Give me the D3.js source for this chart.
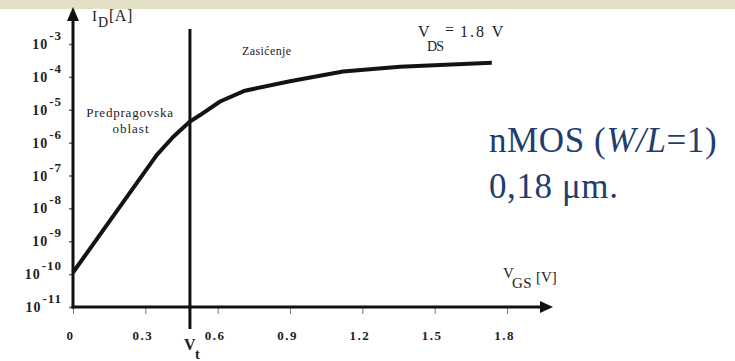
<!DOCTYPE html>
<html>
<head>
<meta charset="utf-8">
<script src="https://cdn.jsdelivr.net/npm/d3@7"></script>
<style>
  body { margin: 0; background: #fff; }
  svg { display: block; }
</style>
</head>
<body>
<script>
// transfer characteristic, nMOS 0.18um, V_DS = 1.8 V
const vgs = [0, 0.347, 0.416, 0.485, 0.527, 0.61, 0.713, 0.9, 1.12, 1.356, 1.737];
const idA = [1.12e-10, 4.17e-7, 1.51e-6, 4.37e-6, 6.9e-6, 1.78e-5, 3.8e-5, 7.4e-5, 1.45e-4, 2.04e-4, 2.69e-4];
const xTicks = [0, 0.3, 0.6, 0.9, 1.2, 1.5, 1.8];
const yExps = [-3, -4, -5, -6, -7, -8, -9, -10, -11];
const vt = 0.485;

const width = 735, height = 361;
const serif = "'Liberation Serif', 'Times New Roman', serif";

const svg = d3.select("body").append("svg")
    .attr("width", width)
    .attr("height", height);

// beige strip on top
svg.append("rect")
    .attr("x", 0).attr("y", 0)
    .attr("width", width).attr("height", 9)
    .attr("fill", "#e3dfc7");

const x = d3.scaleLinear().domain([0, 1.8]).range([73, 507]);
const y = d3.scaleLog().domain([1e-11, 1e-3]).range([307, 44]);

// x ticks
const xAxis = svg.append("g")
    .attr("transform", `translate(0,${y(1e-11)})`)
    .call(d3.axisBottom(x).tickValues(xTicks).tickSize(7).tickFormat(d => d === 0 ? "0" : d3.format(".1f")(d)));
xAxis.attr("font-family", serif);
xAxis.select(".domain").remove();
xAxis.selectAll(".tick line").attr("stroke", "#777").attr("stroke-width", 1);
xAxis.selectAll(".tick text")
    .attr("y", 33).attr("dy", 0).attr("dx", -3)
    .attr("fill", "#222")
    .attr("font-family", serif)
    .attr("font-weight", "bold")
    .attr("font-size", 13)
    .attr("letter-spacing", 1.5);

// y ticks
const yAxis = svg.append("g")
    .attr("transform", `translate(${x(0)},0)`)
    .call(d3.axisLeft(y).tickValues(yExps.map(e => Math.pow(10, e))).tickSize(4).tickFormat(""));
yAxis.select(".domain").remove();
yAxis.selectAll(".tick line").attr("stroke", "#666").attr("stroke-width", 1.5);

const yLab = svg.append("g")
    .selectAll("text")
    .data(yExps)
    .join("text")
    .attr("x", 62)
    .attr("y", d => y(Math.pow(10, d)) + 5)
    .attr("text-anchor", "end")
    .attr("fill", "#222")
    .attr("font-family", serif)
    .attr("font-weight", "bold")
    .attr("font-size", 14)
    .attr("letter-spacing", 1);
yLab.append("tspan").text("10");
yLab.append("tspan")
    .attr("dy", -9)
    .attr("dx", 1)
    .attr("font-size", 13)
    .text(d => d);

// axes with arrows
const axisCol = "#111";
svg.append("line")
    .attr("x1", x(0)).attr("x2", x(0))
    .attr("y1", y(1e-11) + 1.5).attr("y2", 20)
    .attr("stroke", axisCol).attr("stroke-width", 3);
svg.append("path")
    .attr("d", `M${x(0)},7 L${x(0) - 6},21 L${x(0) + 6},21 Z`)
    .attr("fill", axisCol);
svg.append("line")
    .attr("x1", x(0) - 1.5).attr("x2", 542)
    .attr("y1", y(1e-11)).attr("y2", y(1e-11))
    .attr("stroke", axisCol).attr("stroke-width", 3);
svg.append("path")
    .attr("d", `M553,${y(1e-11)} L540,${y(1e-11) - 6} L540,${y(1e-11) + 6} Z`)
    .attr("fill", axisCol);

// threshold line
svg.append("line")
    .attr("x1", x(vt)).attr("x2", x(vt))
    .attr("y1", 29).attr("y2", 329)
    .attr("stroke", "#111").attr("stroke-width", 3);

// curve
const line = d3.line()
    .x(d => x(d[0]))
    .y(d => y(d[1]));
svg.append("path")
    .datum(vgs.map((v, i) => [v, idA[i]]))
    .attr("d", line)
    .attr("fill", "none")
    .attr("stroke", "#161210")
    .attr("stroke-width", 4)
    .attr("stroke-linejoin", "round");

// labels
const lab = (px, py, size, txt) => svg.append("text")
    .attr("x", px).attr("y", py)
    .attr("fill", "#222")
    .attr("font-family", serif)
    .attr("font-size", size)
    .text(txt);

lab(92, 21, 15, "I");
lab(98, 27, 14, "D").attr("letter-spacing", -0.5);
lab(109, 21, 16, "[A]").attr("letter-spacing", 0.5);

lab(242, 55, 12, "Zasićenje").attr("letter-spacing", 0.4);

lab(418, 37, 16, "V");
lab(445, 35, 16, "=");
lab(460, 37, 16, "1.8 V").attr("letter-spacing", 2);
lab(427, 51, 14, "DS").attr("letter-spacing", -0.8);

lab(130, 117, 13, "Predpragovska").attr("text-anchor", "middle").attr("letter-spacing", 0.8);
lab(131, 133, 13, "oblast").attr("text-anchor", "middle").attr("letter-spacing", 1);

lab(503, 278, 15, "V");
lab(512, 288, 15, "GS").attr("letter-spacing", 0.5);
lab(536, 282, 15, "[V]");

lab(x(vt) - 6, 350, 16, "V").attr("font-weight", "bold");
lab(x(vt) + 5, 359, 14, "t").attr("font-weight", "bold");

const blue = "#1f3d6e";
const nm = lab(489, 152, 35, null).attr("fill", blue).attr("letter-spacing", 0.6);
nm.append("tspan").text("nMOS (");
nm.append("tspan").attr("font-style", "italic").text("W/L");
nm.append("tspan").text("=1)");
lab(489, 198, 35, "0,18 μm.").attr("fill", blue).attr("letter-spacing", 0.6);
</script>
</body>
</html>
